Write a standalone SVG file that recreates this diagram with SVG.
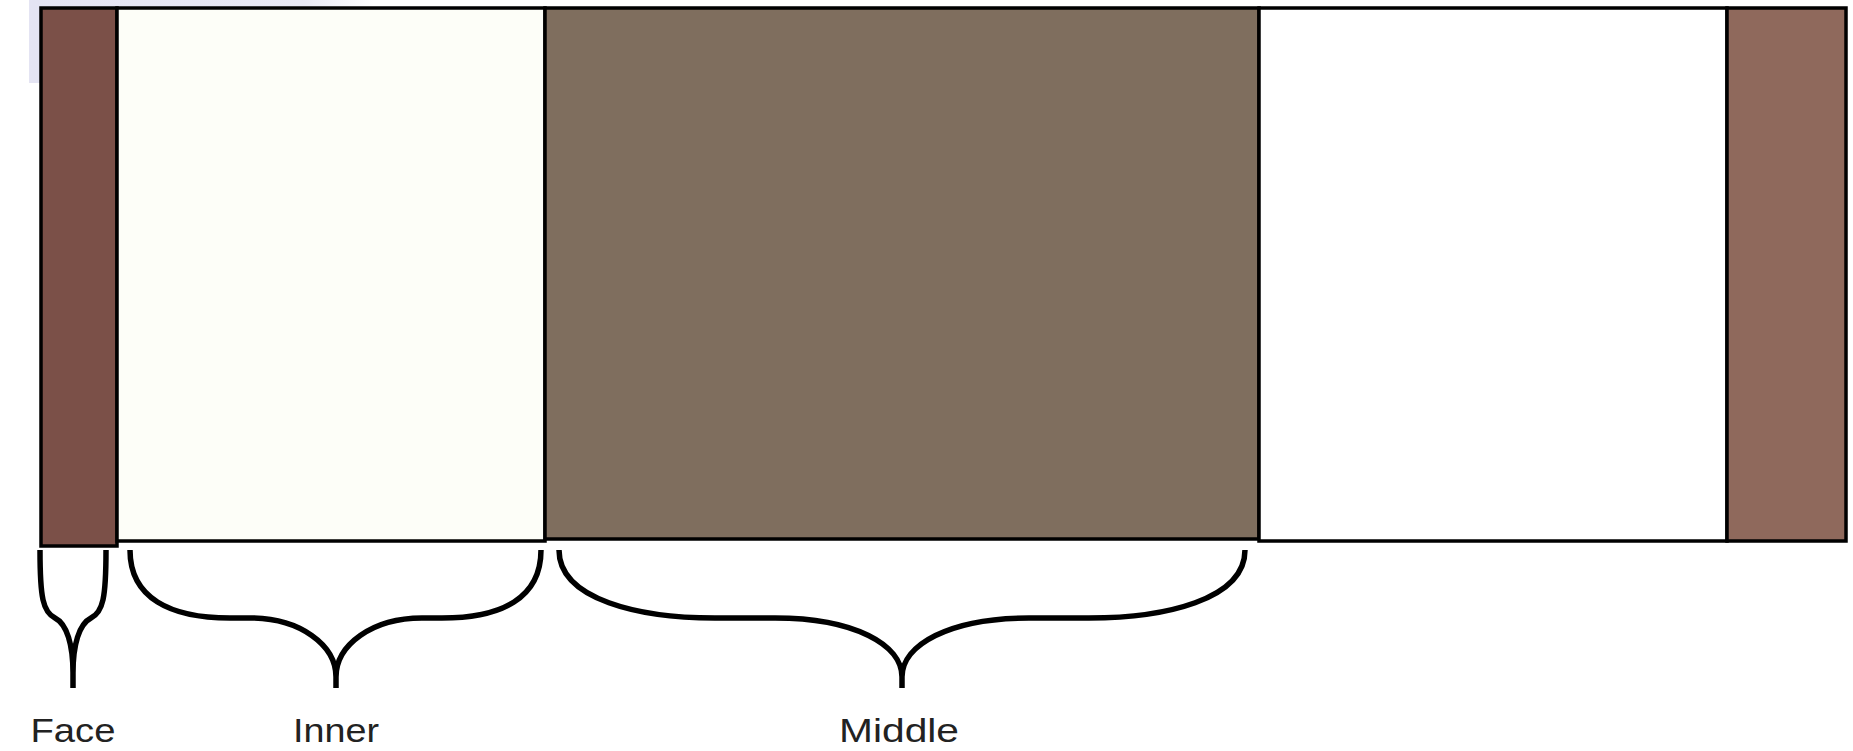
<svg xmlns="http://www.w3.org/2000/svg" width="1853" height="751" viewBox="0 0 1853 751">
<style>
.layer{stroke:#000;stroke-width:3.5}
.brace{fill:none;stroke:#000;stroke-width:5.5;stroke-linecap:butt;stroke-linejoin:round}
.lbl{font-family:"Century Gothic","URW Gothic","Liberation Sans",Arial,sans-serif;font-size:34px;fill:#222;text-anchor:middle}
</style>
<defs>
<linearGradient id="lav" x1="0" y1="0" x2="1" y2="0">
<stop offset="0" stop-color="#e4e4f3"/>
<stop offset="0.8" stop-color="#e9e9f5"/>
<stop offset="1" stop-color="#ffffff"/>
</linearGradient>
</defs>
<rect width="1853" height="751" fill="#fff"/>
<rect x="29" y="0" width="345" height="83" fill="url(#lav)"/>
<g id="face"><rect class="layer" x="41" y="8" width="76" height="538" fill="#7b5048"/></g>
<g id="inner"><rect class="layer" x="117" y="8" width="428" height="533" fill="#fdfef8"/></g>
<g id="middle"><rect class="layer" x="545" y="8" width="714" height="531" fill="#7f6e5e"/></g>
<g id="outer-white"><rect class="layer" x="1259" y="8" width="468" height="533" fill="#ffffff"/></g>
<g id="outer-brown"><rect class="layer" x="1727" y="8" width="119" height="533" fill="#8f695c"/></g>
<g id="connectors">
<path class="brace" d="M40 550 C40 598 43 612 55 618 C67 624 73 645 73 673 L73 688 M106 550 C106 598 103 612 91 618 C79 624 73 645 73 673"/>
<path class="brace" d="M130 550 C130 598 170 618 230 618 L250 618 C300 618 336 645 336 677 L336 688 M541 550 C541 598 502 618 442 618 L422 618 C372 618 336 645 336 677"/>
<path class="brace" d="M559 550 C559 600 640 618 715 618 L775 618 C855 618 902 645 902 677 L902 688 M1245 550 C1245 600 1164 618 1089 618 L1029 618 C949 618 902 645 902 677"/>
</g>
<g id="labels">
<text class="lbl" x="73" y="742" textLength="85" lengthAdjust="spacingAndGlyphs">Face</text>
<text class="lbl" x="336" y="742" textLength="86" lengthAdjust="spacingAndGlyphs">Inner</text>
<text class="lbl" x="899" y="742" textLength="120" lengthAdjust="spacingAndGlyphs">Middle</text>
</g>
</svg>
